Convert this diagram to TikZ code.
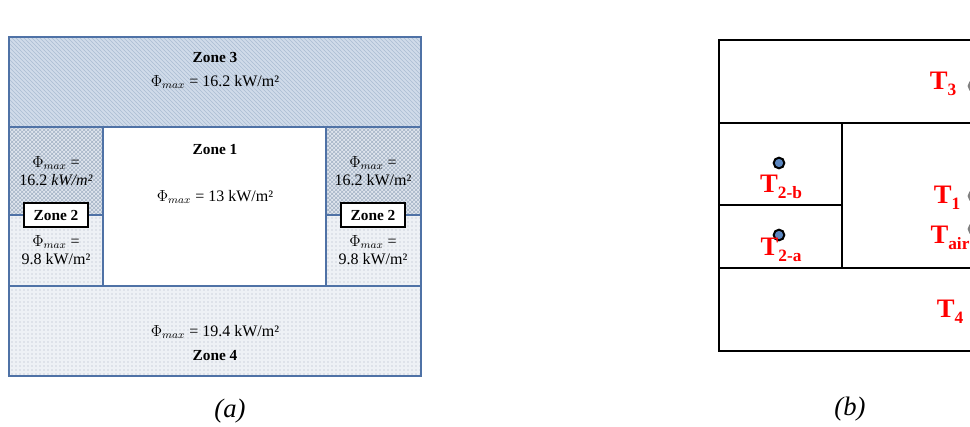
\documentclass[tikz,border=0pt]{standalone}
\usepackage{fontspec}
\setmainfont{Liberation Serif}
\usepackage{xcolor}
\usepackage{tikz}
\usetikzlibrary{patterns}

\definecolor{wallblue}{HTML}{4F72A6}
\definecolor{topfill}{HTML}{D0DBE9}
\definecolor{hatchcol}{HTML}{ABBDD3}
\definecolor{crossfill}{HTML}{E0E6EE}
\definecolor{crosscol}{HTML}{A4B3C6}
\definecolor{dotfill}{HTML}{EEF1F5}
\definecolor{dotcol}{HTML}{A9B3C2}
\definecolor{probeblue}{HTML}{5B86C0}

% temperature label with a lowered subscript
\newcommand{\tlbl}[1]{T\raisebox{-0.45ex}{\fontsize{13}{13}\selectfont #1}}

\begin{document}
\begin{tikzpicture}[
    x=0.75pt, y=-0.75pt,
    wall/.style={draw=wallblue, line width=1.4pt},
    cell/.style={draw=black, line width=2pt},
    zonetitle/.style={font=\fontsize{11.5}{12}\selectfont\bfseries},
    flux/.style={font=\fontsize{12}{14}\selectfont, align=center, inner sep=0pt},
    zonebox/.style={draw=black, fill=white, line width=1.2pt, minimum width=48pt, minimum height=18pt, inner sep=0pt, font=\fontsize{11.5}{12}\selectfont\bfseries},
    temp/.style={text=red, font=\fontsize{20}{22}\selectfont\bfseries, inner sep=0pt},
    probe/.style={circle, draw=black, fill=probeblue, line width=1.5pt, minimum size=8pt, inner sep=0pt},
    capt/.style={font=\fontsize{20}{22}\selectfont\itshape}
  ]
  \useasboundingbox (0,0) rectangle (970,426);
  \clip (0,0) rectangle (970,426);

  % (a) fills
  \fill[topfill] (9,37) rectangle (421,127);
  \fill[pattern=north west lines, pattern color=hatchcol] (9,37) rectangle (421,127);
  \foreach \xa/\xb in {9/103, 326/421} {
    \fill[crossfill] (\xa,127) rectangle (\xb,215);
    \fill[pattern=crosshatch, pattern color=crosscol] (\xa,127) rectangle (\xb,215);
    \fill[dotfill] (\xa,215) rectangle (\xb,286);
    \fill[pattern=dots, pattern color=dotcol] (\xa,215) rectangle (\xb,286);
  }
  \fill[dotfill] (9,286) rectangle (421,376);
  \fill[pattern=dots, pattern color=dotcol] (9,286) rectangle (421,376);

  % (a) walls
  \draw[wall] (9,37) rectangle (421,376);
  \draw[wall] (9,127) -- (421,127);
  \draw[wall] (9,286) -- (421,286);
  \draw[wall] (103,127) -- (103,286);
  \draw[wall] (326,127) -- (326,286);
  \draw[wall] (9,215) -- (103,215);
  \draw[wall] (326,215) -- (421,215);

  % (a) labels
  \node[zonetitle] (z3) at (215,57) {Zone 3};
  \node[flux] (f3) at (215,82) {$\Phi_{max}$ = 16.2 kW/m²};
  \node[zonetitle] (z1) at (215,150) {Zone 1};
  \node[flux] (f1) at (215,197) {$\Phi_{max}$ = 13 kW/m²};
  \node[flux] (f2bl) at (56,171) {$\Phi_{max}$ =\\16.2 \textit{kW/m²}};
  \node[flux] (f2al) at (56,250) {$\Phi_{max}$ =\\9.8 kW/m²};
  \node[flux] (f2br) at (373,171) {$\Phi_{max}$ =\\16.2 kW/m²};
  \node[flux] (f2ar) at (373,250) {$\Phi_{max}$ =\\9.8 kW/m²};
  \node[zonebox] (z2l) at (56,215) {Zone 2};
  \node[zonebox] (z2r) at (373,215) {Zone 2};
  \node[flux] (f4) at (215,332) {$\Phi_{max}$ = 19.4 kW/m²};
  \node[zonetitle] (z4) at (215,356) {Zone 4};
  \node[capt] (capa) at (230,411) {(a)};

  % (b) cells
  \draw[cell] (719,40) rectangle (990,351);
  \draw[cell] (719,123) -- (990,123);
  \draw[cell] (719,268) -- (990,268);
  \draw[cell] (719,123) -- (719,268);
  \draw[cell] (842,123) -- (842,268);
  \draw[cell] (719,205) -- (842,205);

  % (b) sensors
  \node[probe] (p2b) at (779,163) {};
  \node[probe] (p2a) at (779,235) {};
  \node[probe, fill=gray!60, draw=gray] (p3) at (974,86) {};
  \node[probe, fill=gray!60, draw=gray] (p1) at (974,196) {};
  \node[probe, fill=gray!60, draw=gray] (pair) at (974,229) {};

  % (b) temperatures
  \node[temp] (t3) at (943,84) {\tlbl{3}};
  \node[temp] (t2b) at (781,187) {\tlbl{2-b}};
  \node[temp] (t1) at (947,198) {\tlbl{1}};
  \node[temp] (tair) at (950,238) {\tlbl{air}};
  \node[temp] (t2a) at (781,250) {\tlbl{2-a}};
  \node[temp] (t4) at (950,312) {\tlbl{4}};
  \node[capt] (capb) at (850,409) {(b)};
\end{tikzpicture}
\end{document}
